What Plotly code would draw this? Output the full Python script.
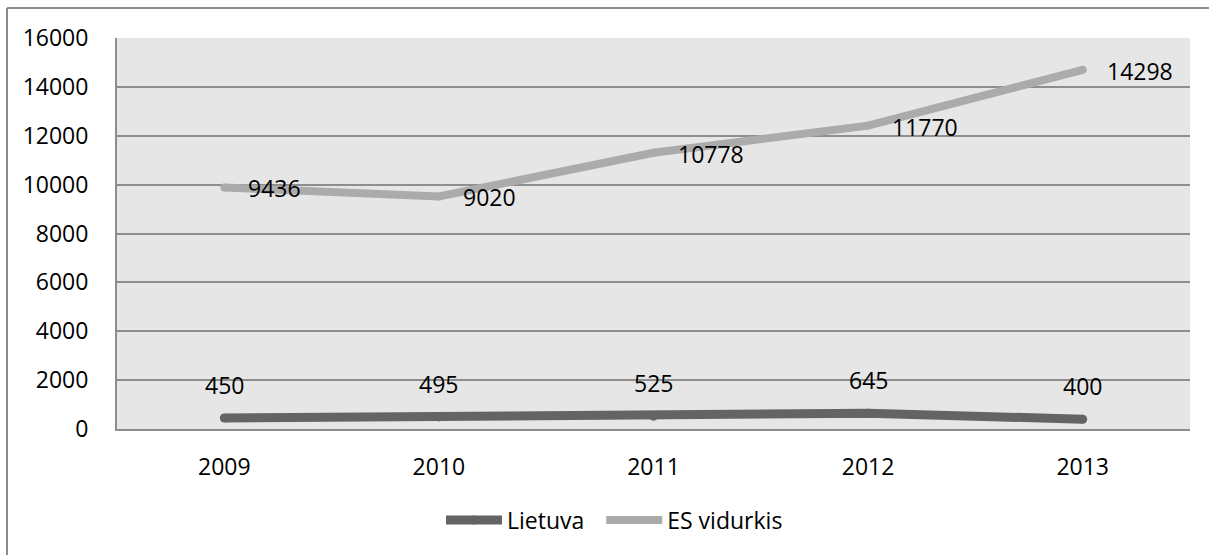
import plotly.graph_objects as go

years = ["2009", "2010", "2011", "2012", "2013"]
lietuva = [450, 495, 525, 645, 400]
es_vidurkis = [9436, 9020, 10778, 11770, 14298]
y_ticks = [0, 2000, 4000, 6000, 8000, 10000, 12000, 14000, 16000]

C_LT = "#646464"
C_ES = "#ababab"
GRID = "#8e8e8e"
FONT = "Open Sans"
FS = 23

fig = go.Figure()
fig.add_trace(go.Scatter(
    x=years, y=lietuva, name="Lietuva\u00a0\u00a0", mode="lines+markers",
    stackgroup="one", fill="none",
    line=dict(color=C_LT, width=9), marker=dict(color=C_LT, size=9, line=dict(width=0)),
    hoverinfo="skip"))
fig.add_trace(go.Scatter(
    x=years, y=es_vidurkis, name="ES vidurkis", mode="lines+markers",
    stackgroup="one", fill="none",
    line=dict(color=C_ES, width=8), marker=dict(color=C_ES, size=8, line=dict(width=0)),
    hoverinfo="skip"))

annotations = []
for i, v in enumerate(lietuva):
    annotations.append(dict(x=i, y=v, xref="x", yref="y", text=str(v), showarrow=False,
                            yshift=33, font=dict(family=FONT, size=FS, color="black")))
for i, (a, b) in enumerate(zip(lietuva, es_vidurkis)):
    annotations.append(dict(x=i, y=a + b, xref="x", yref="y", text=str(b), showarrow=False,
                            xanchor="left", xshift=22, yshift=-1,
                            font=dict(family=FONT, size=FS, color="black")))

shapes = [
    dict(type="line", xref="paper", yref="paper", x0=(7 - 117) / 1073, x1=(7 - 117) / 1073,
         y0=(429 - 8) / 391, y1=(429 - 600) / 391, line=dict(color="#8c8c8c", width=2)),
    dict(type="line", xref="paper", yref="paper", x0=(7 - 117) / 1073, x1=(1250 - 117) / 1073,
         y0=(429 - 8) / 391, y1=(429 - 8) / 391, line=dict(color="#8c8c8c", width=2)),
]

fig.update_layout(
    width=1209, height=555, autosize=False,
    margin=dict(l=117, r=19, t=38, b=126),
    paper_bgcolor="white", plot_bgcolor="#e6e6e6",
    font=dict(family=FONT, size=FS, color="black"),
    showlegend=True,
    legend=dict(orientation="h", x=(446 - 117 - 5) / 1073, xanchor="left",
                y=(429 - 520) / 391, yanchor="middle",
                font=dict(family=FONT, size=FS, color="black"),
                itemwidth=56,
                bgcolor="rgba(0,0,0,0)", traceorder="normal"),
    annotations=annotations,
    shapes=shapes,
)
fig.update_xaxes(type="category", range=[-0.5, 4.5], showgrid=False, showline=True,
                 linecolor=GRID, linewidth=2, ticks="", ticklabelstandoff=16,
                 tickfont=dict(family=FONT, size=FS, color="black"), fixedrange=True)
fig.update_yaxes(range=[0, 16000], tickvals=y_ticks, ticktext=[str(t) for t in y_ticks],
                 showgrid=True, gridcolor=GRID, gridwidth=1.5, zeroline=False,
                 showline=True, linecolor=GRID, linewidth=2, ticks="", ticklabelstandoff=22,
                 tickfont=dict(family=FONT, size=FS, color="black"), fixedrange=True)

fig.write_html("out.html")
